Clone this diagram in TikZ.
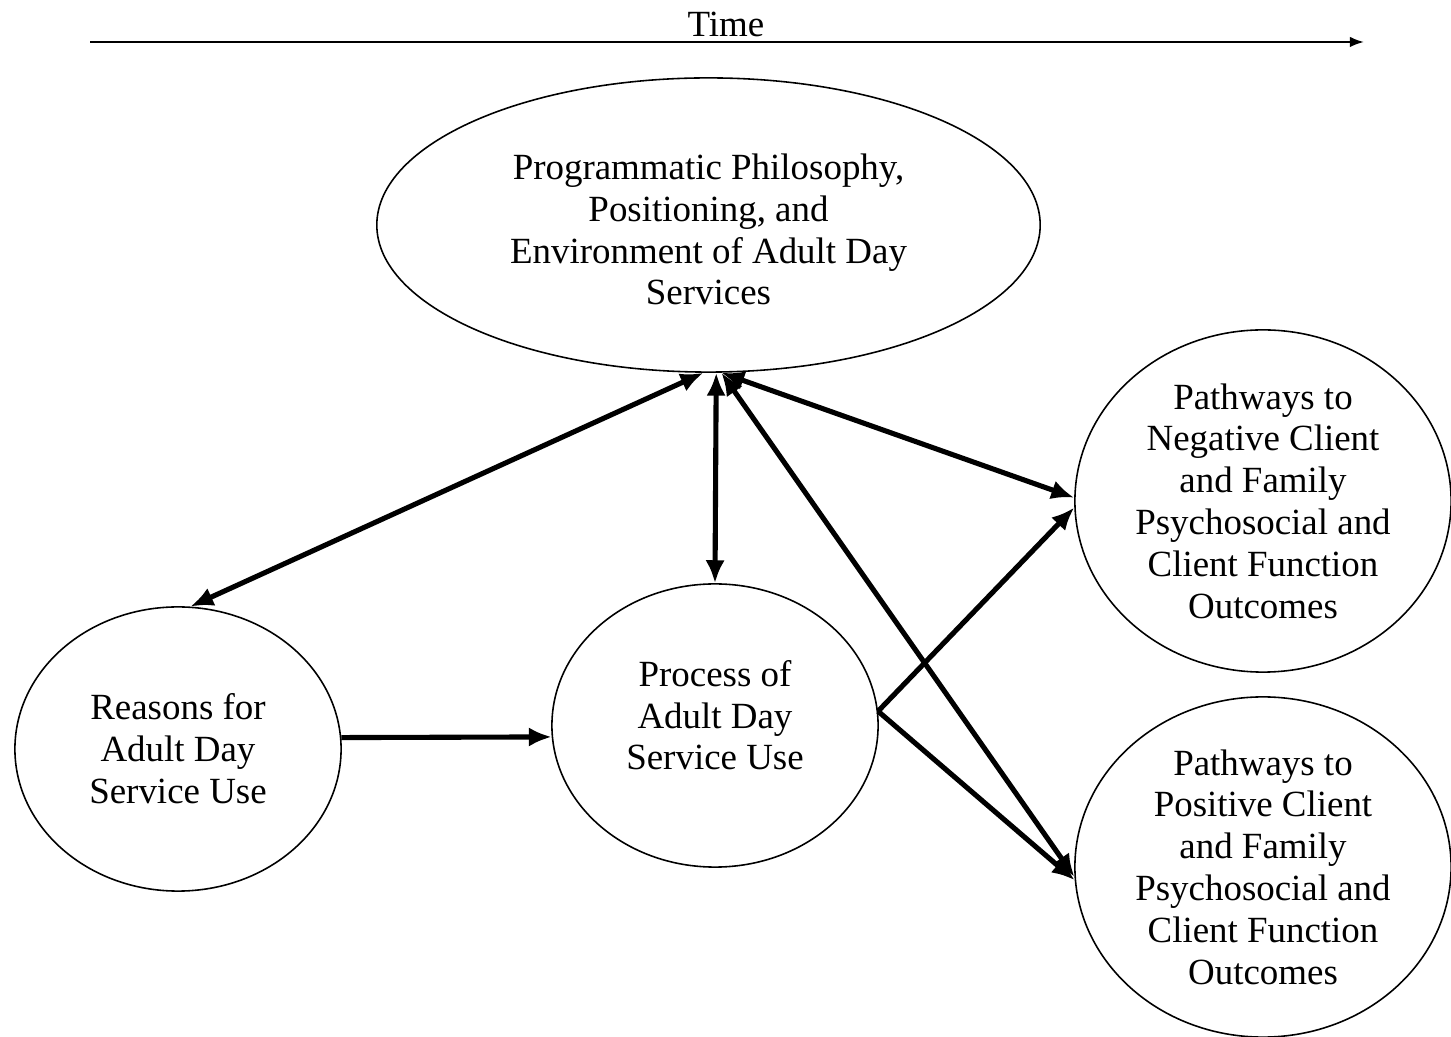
\documentclass[tikz,border=0pt]{standalone}
\usepackage{fontspec}
\setmainfont{Liberation Serif}
\usetikzlibrary{shapes.geometric,arrows.meta}
\begin{document}
\begin{tikzpicture}[x=0.01cm, y=-0.01cm,
  oval/.style={ellipse, draw, line width=0.45pt, inner sep=-6pt, align=center, font=\fontsize{10.5}{11.9}\selectfont},
  link/.style={line width=1.45pt, -{Latex[length=6.5pt,width=5.5pt]}},
  both/.style={line width=1.45pt, {Latex[length=6.5pt,width=5.5pt]}-{Latex[length=6.5pt,width=5.5pt]}}]
\useasboundingbox (0,0) rectangle (1451,1037);
% time axis
\coordinate (t0) at (90,42);
\coordinate (t1) at (1364,42);
\draw[line width=0.6pt, -{Latex[length=4pt,width=3pt]}](t0) -- (t1);
\node[font=\fontsize{10.5}{11.9}\selectfont] (time) at (726,24){Time};
% ovals
\node[oval, minimum width=6.63cm, minimum height=2.94cm] (prog) at (708.5,225){\mbox{}\\[-2pt]Programmatic Philosophy,\\Positioning, and\\Environment of Adult Day\\Services};
\node[oval, minimum width=3.26cm, minimum height=2.84cm] (reasons) at (178,749){Reasons for\\Adult Day\\Service Use};
\node[oval, minimum width=3.26cm, minimum height=2.83cm] (process) at (715,725.5){Process of\\Adult Day\\Service Use\\[-6pt]};
\node[oval, minimum width=3.76cm, minimum height=3.42cm] (neg) at (1263,501){Pathways to\\Negative Client\\and Family\\Psychosocial and\\Client Function\\Outcomes};
\node[oval, minimum width=3.76cm, minimum height=3.4cm] (pos) at (1263,867){Pathways to\\Positive Client\\and Family\\Psychosocial and\\Client Function\\Outcomes};
% connectors
\draw[both](prog.-92) -- (reasons.85);
\draw[both](prog.-87.5) -- (process.90);
\draw[both](prog.-85) -- (neg.179);
\draw[both](prog.-85) -- (pos.183);
\draw[link](reasons.4) -- (process.184);
\draw[link](process.5) -- (neg.182);
\draw[link](process.5) -- (pos.184);
\end{tikzpicture}
\end{document}
